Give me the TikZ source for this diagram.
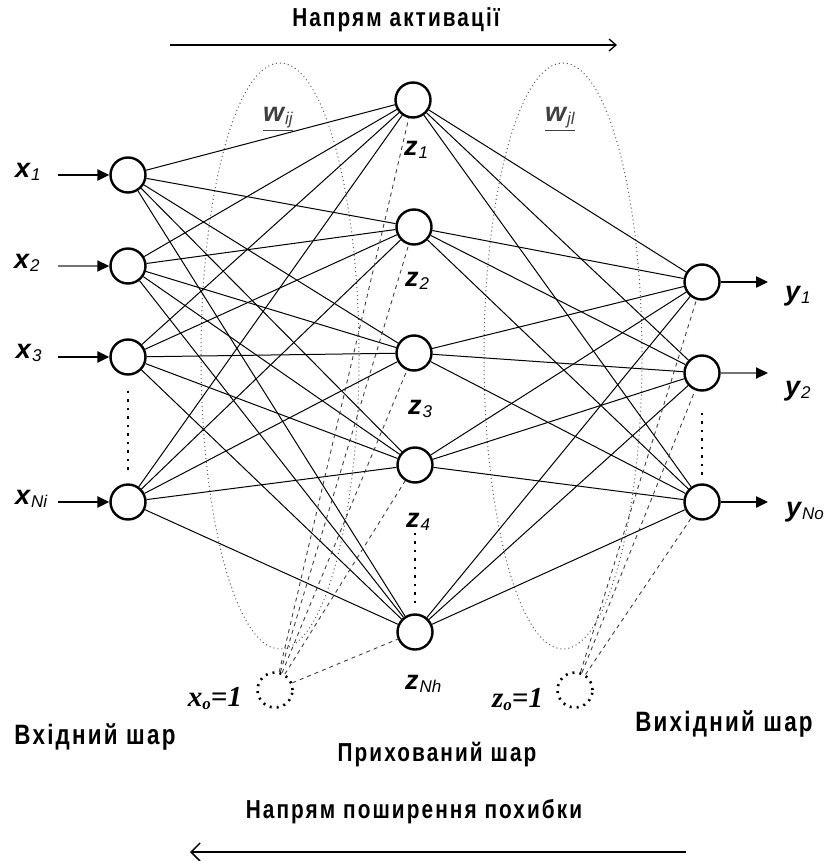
\documentclass[tikz,border=0pt]{standalone}
\usepackage{fontspec}
\setmainfont{Liberation Serif}
\newfontfamily\ukr[FakeStretch=0.8,LetterSpace=8]{Liberation Sans}
\newfontfamily\vsans{Liberation Sans}
\newfontfamily\vserif{Liberation Serif}
\usetikzlibrary{arrows.meta}
\newcommand\vlab[2]{{\vsans\fontsize{27}{27}\selectfont\bfseries\itshape #1\hspace{1pt}\raisebox{-3pt}{\fontsize{17}{17}\selectfont\mdseries #2}}}
\newcommand\ulab[2]{{\ukr\bfseries\fontsize{#1}{#1}\selectfont #2}}
\newcommand\blab[2]{{\vserif\bfseries\itshape\fontsize{29}{29}\selectfont #1\raisebox{-3pt}{\fontsize{17}{17}\selectfont #2}=1}}
\begin{document}
\begin{tikzpicture}[x=1pt,y=-1pt,
 neuron/.style={circle,draw,line width=2.4pt,minimum size=35pt,inner sep=0pt,fill=white},
 biasn/.style={circle,draw,line width=2.6pt,dash pattern=on 2pt off 5pt,minimum size=35pt,inner sep=0pt},
 conn/.style={line width=1pt},
 biasl/.style={line width=0.9pt,dash pattern=on 4pt off 4pt,black!75},
 ell/.style={line width=1pt,dash pattern=on 1pt off 3pt,black!65},
 vdots/.style={line width=2.5pt,dash pattern=on 2.5pt off 6pt},
 io/.style={line width=2.4pt,-{Triangle[length=12pt,width=11pt]}},
 iolight/.style={line width=1.8pt,black!55,-{Triangle[length=12pt,width=11pt,fill=black,color=black]}},
 lab/.style={inner sep=0pt,outer sep=0pt}
]
\useasboundingbox (0,0) rectangle (836,861);

% dotted ellipses (weight groups)
\draw[ell] (280,356) ellipse [x radius=79pt, y radius=293pt];
\draw[ell] (563,356) ellipse [x radius=79pt, y radius=293pt];

% neurons
\node[neuron] (I1) at (128,175) {};
\node[neuron] (I2) at (128,266) {};
\node[neuron] (I3) at (128,357) {};
\node[neuron] (I4) at (128,502) {};
\node[neuron] (H1) at (413,100) {};
\node[neuron] (H2) at (414,227) {};
\node[neuron] (H3) at (414,353) {};
\node[neuron] (H4) at (415,465) {};
\node[neuron] (H5) at (415,632) {};
\node[neuron] (O1) at (702,282) {};
\node[neuron] (O2) at (702,373) {};
\node[neuron] (O3) at (702,502) {};
\node[biasn] (B1) at (275,690) {};
\node[biasn] (B2) at (575,690) {};

% connections
\foreach \i in {I1,I2,I3,I4}
  \foreach \h in {H1,H2,H3,H4,H5}
    \draw[conn] (\i) -- (\h);
\foreach \h in {H1,H2,H3,H4,H5}
  \foreach \o in {O1,O2,O3}
    \draw[conn] (\h) -- (\o);
\foreach \h in {H1,H2,H3,H4,H5}
  \draw[biasl] (B1) -- (\h);
\foreach \o in {O1,O2,O3}
  \draw[biasl] (B2) -- (\o);

% vertical dots
\draw[vdots,shorten <=15pt,shorten >=9pt] (I3) -- (I4);
\draw[vdots,shorten <=49pt,shorten >=7pt] (H4) -- (H5);
\draw[vdots,shorten <=21pt,shorten >=7pt] (O2) -- (O3);

% input / output arrows
\coordinate (a1) at (58,175);
\coordinate (a2) at (58,266);
\coordinate (a3) at (58,357);
\coordinate (a4) at (58,502);
\draw[io] (a1) -- (I1);
\draw[iolight] (a2) -- (I2);
\draw[io] (a3) -- (I3);
\draw[io] (a4) -- (I4);
\coordinate (b1) at (768,282);
\coordinate (b2) at (768,373);
\coordinate (b3) at (768,502);
\draw[io] (O1) -- (b1);
\draw[iolight] (O2) -- (b2);
\draw[io] (O3) -- (b3);

% variable labels
\node[lab,anchor=base west] (lx1) at (15,178) {\vlab{x}{1}};
\node[lab,anchor=base west] (lx2) at (14,268) {\vlab{x}{2}};
\node[lab,anchor=base west] (lx3) at (16,358) {\vlab{x}{3}};
\node[lab,anchor=base west] (lx4) at (15,504) {\vlab{x}{Ni}};
\node[lab,anchor=base west] (lz1) at (404,156) {\vlab{z}{1}};
\node[lab,anchor=base west] (lz2) at (405,286) {\vlab{z}{2}};
\node[lab,anchor=base west] (lz3) at (408,414) {\vlab{z}{3}};
\node[lab,anchor=base west] (lz4) at (406,527) {\vlab{z}{4}};
\node[lab,anchor=base west] (lz5) at (405,689) {\vlab{z}{Nh}};
\node[lab,anchor=base west] (ly1) at (785,300) {\vlab{y}{1}};
\node[lab,anchor=base west] (ly2) at (785,395) {\vlab{y}{2}};
\node[lab,anchor=base west] (ly3) at (786,516) {\vlab{y}{No}};

% weight labels
\node[lab,anchor=base west,black!75] (wij) at (263,122) {\underline{\vlab{w}{ij}}};
\node[lab,anchor=base west,black!75] (wjl) at (545,122) {\underline{\vlab{w}{jl}}};

% bias labels
\node[lab,anchor=base east] (lb1) at (242,706) {\blab{x}{o}};
\node[lab,anchor=base east] (lb2) at (543,707) {\blab{z}{o}};

% titles
\node[lab,anchor=base] (t1) at (396,27) {\ulab{26}{Напрям активації}};
\node[lab,anchor=base] (t2) at (95,744) {\ulab{28}{Вхідний шар}};
\node[lab,anchor=base] (t3) at (724,731) {\ulab{28}{Вихідний шар}};
\node[lab,anchor=base] (t4) at (437,761) {\ulab{26}{Прихований шар}};
\node[lab,anchor=base] (t5) at (414,818) {\ulab{26}{Напрям поширення похибки}};

% direction arrows
\coordinate (ta1) at (170,45);
\coordinate (ta2) at (617,45);
\draw[line width=1.3pt,-{Straight Barb[length=7pt,width=12pt]}] (ta1) -- (ta2);
\coordinate (ba1) at (686,852);
\coordinate (ba2) at (190,852);
\draw[line width=1.5pt,-{Straight Barb[length=9pt,width=18pt]}] (ba1) -- (ba2);
\end{tikzpicture}
\end{document}
